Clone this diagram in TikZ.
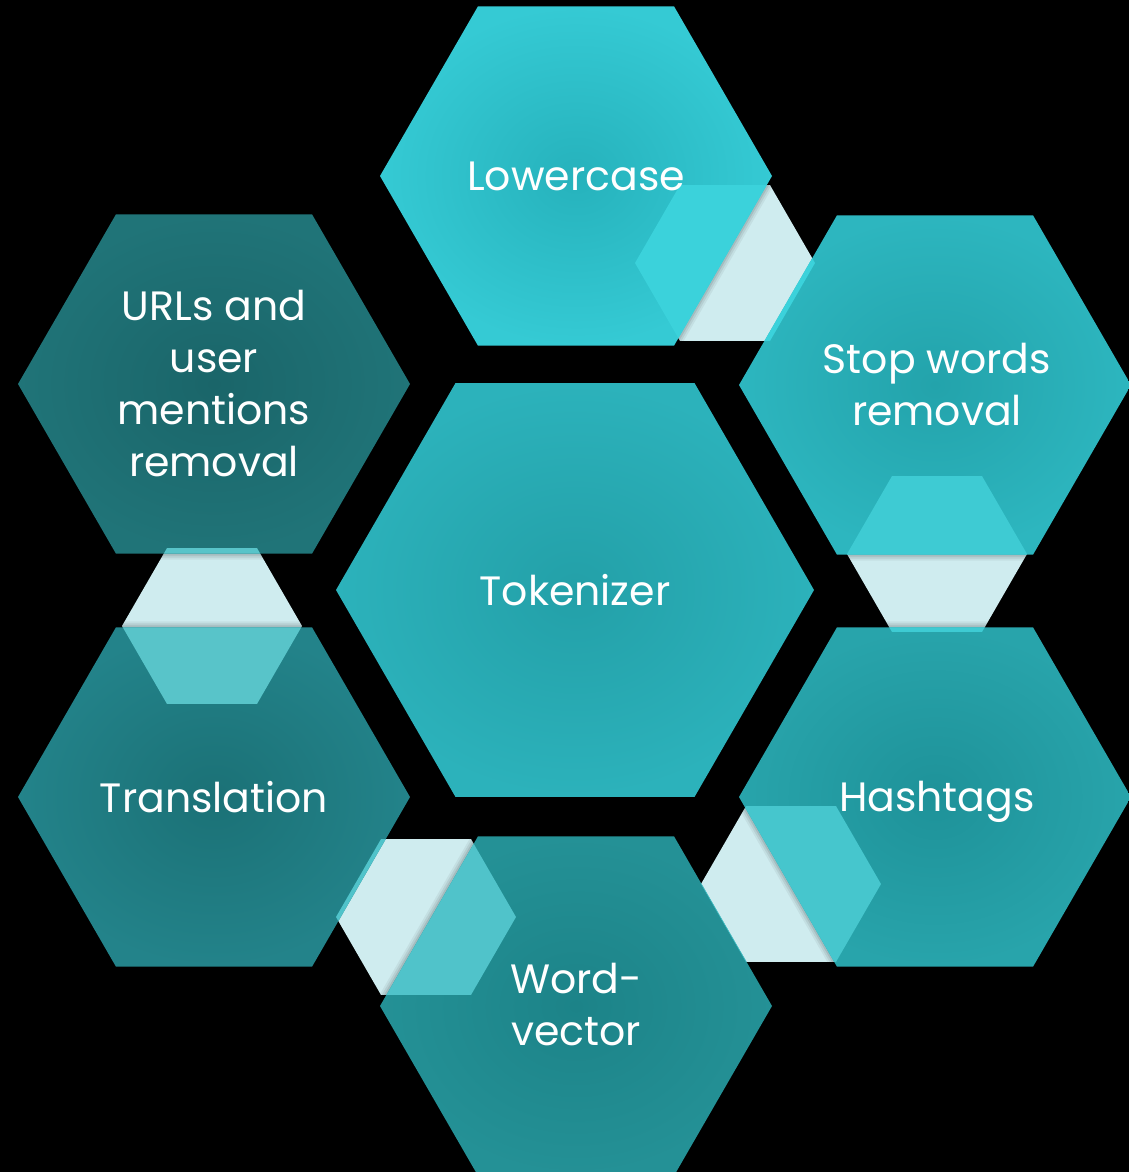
\documentclass[tikz,border=0pt]{standalone}
\usepackage{fontspec}
\setmainfont{Poppins}
\definecolor{paleC}{HTML}{CFECEF}
% big cells: centre / rim colours
\definecolor{lowIn}{HTML}{26B2BC}\definecolor{lowOut}{HTML}{35CAD4}
\definecolor{stopIn}{HTML}{23A3AB}\definecolor{stopOut}{HTML}{2DB6BF}
\definecolor{tokIn}{HTML}{23A0A8}\definecolor{tokOut}{HTML}{2CB2BB}
\definecolor{hashIn}{HTML}{1E9299}\definecolor{hashOut}{HTML}{28A4AB}
\definecolor{wordIn}{HTML}{1C8388}\definecolor{wordOut}{HTML}{249196}
\definecolor{transIn}{HTML}{1B7176}\definecolor{transOut}{HTML}{23838A}
\definecolor{urlIn}{HTML}{1A6569}\definecolor{urlOut}{HTML}{207478}
% joint tints where a joint overlaps a cell
\definecolor{jLow}{HTML}{3BD2DB}
\definecolor{jStop}{HTML}{3ECBD3}
\definecolor{jHash}{HTML}{46C6CD}
\definecolor{jWord}{HTML}{50C3CA}
\definecolor{jTrans}{HTML}{58C4C9}
% flat-top hexagon: centre x, centre y, circumradius
\newcommand\hexat[3]{({#1-#3},{#2}) -- ({#1-0.5*#3},{#2-0.866*#3}) -- ({#1+0.5*#3},{#2-0.866*#3}) -- ({#1+#3},{#2}) -- ({#1+0.5*#3},{#2+0.866*#3}) -- ({#1-0.5*#3},{#2+0.866*#3}) -- cycle}
% soft shadow of a cell's rim, laid in layers
\newcommand\rimshade[3]{%
  \path[draw=black, line width=12pt, opacity=0.05] \hexat{#1}{#2}{#3};
  \path[draw=black, line width=8pt, opacity=0.07] \hexat{#1}{#2}{#3};
  \path[draw=black, line width=4pt, opacity=0.09] \hexat{#1}{#2}{#3};}
\begin{document}
\begin{tikzpicture}[x=1pt,y=-1pt,
  cell/.style={text=white, align=center, font=\fontsize{41}{52}\selectfont}]
\useasboundingbox[fill=black] (0,0) rectangle (1129,1172);

% joints: pale base
\fill[paleC] \hexat{725}{263}{90};
\fill[paleC] \hexat{937}{554}{90};
\fill[paleC] \hexat{791}{884}{90};
\fill[paleC] \hexat{426}{917}{90};
\fill[paleC] \hexat{212}{626}{90};

% soft shadows cast by the cells onto the joints
\begin{scope}\clip \hexat{725}{263}{90}; \rimshade{576}{176}{196} \end{scope}
\begin{scope}\clip \hexat{937}{554}{90}; \rimshade{935}{385}{196} \rimshade{935}{797}{196} \end{scope}
\begin{scope}\clip \hexat{791}{884}{90}; \rimshade{935}{797}{196} \end{scope}
\begin{scope}\clip \hexat{426}{917}{90}; \rimshade{576}{1006}{196} \end{scope}
\begin{scope}\clip \hexat{212}{626}{90}; \rimshade{214}{797}{196} \rimshade{214}{384}{196} \end{scope}

% cells
\shade[inner color=lowIn, outer color=lowOut] \hexat{576}{176}{196};
\shade[inner color=urlIn, outer color=urlOut] \hexat{214}{384}{196};
\shade[inner color=stopIn, outer color=stopOut] \hexat{935}{385}{196};
\shade[inner color=tokIn, outer color=tokOut] \hexat{575}{590}{239};
\shade[inner color=transIn, outer color=transOut] \hexat{214}{797}{196};
\shade[inner color=hashIn, outer color=hashOut] \hexat{935}{797}{196};
\shade[inner color=wordIn, outer color=wordOut] \hexat{576}{1006}{196};

% joints seen through the cells
\begin{scope}\clip \hexat{576}{176}{196}; \fill[jLow] \hexat{725}{263}{90}; \end{scope}
\begin{scope}\clip \hexat{935}{385}{196}; \fill[jLow] \hexat{725}{263}{90}; \end{scope}
\begin{scope}\clip \hexat{935}{385}{196}; \fill[jStop] \hexat{937}{554}{90}; \end{scope}
\begin{scope}\clip \hexat{935}{797}{196}; \fill[jStop] \hexat{937}{554}{90}; \end{scope}
\begin{scope}\clip \hexat{935}{797}{196}; \fill[jHash] \hexat{791}{884}{90}; \end{scope}
\begin{scope}\clip \hexat{576}{1006}{196}; \fill[jHash] \hexat{791}{884}{90}; \end{scope}
\begin{scope}\clip \hexat{576}{1006}{196}; \fill[jWord] \hexat{426}{917}{90}; \end{scope}
\begin{scope}\clip \hexat{214}{797}{196}; \fill[jWord] \hexat{426}{917}{90}; \end{scope}
\begin{scope}\clip \hexat{214}{797}{196}; \fill[jTrans] \hexat{212}{626}{90}; \end{scope}
\begin{scope}\clip \hexat{214}{384}{196}; \fill[jTrans] \hexat{212}{626}{90}; \end{scope}

% labels
\node[cell] (lower) at (576,176) {Lowercase};
\node[cell] (urls) at (214,384) {URLs and\\user\\mentions\\removal};
\node[cell] (stop) at (937,385) {Stop words\\removal};
\node[cell] (tok) at (575,590) {Tokenizer};
\node[cell] (trans) at (214,797) {Translation};
\node[cell] (hash) at (937,802) {Hashtags};
\node[cell] (word) at (576,1005) {Word-\\vector};
\end{tikzpicture}
\end{document}
